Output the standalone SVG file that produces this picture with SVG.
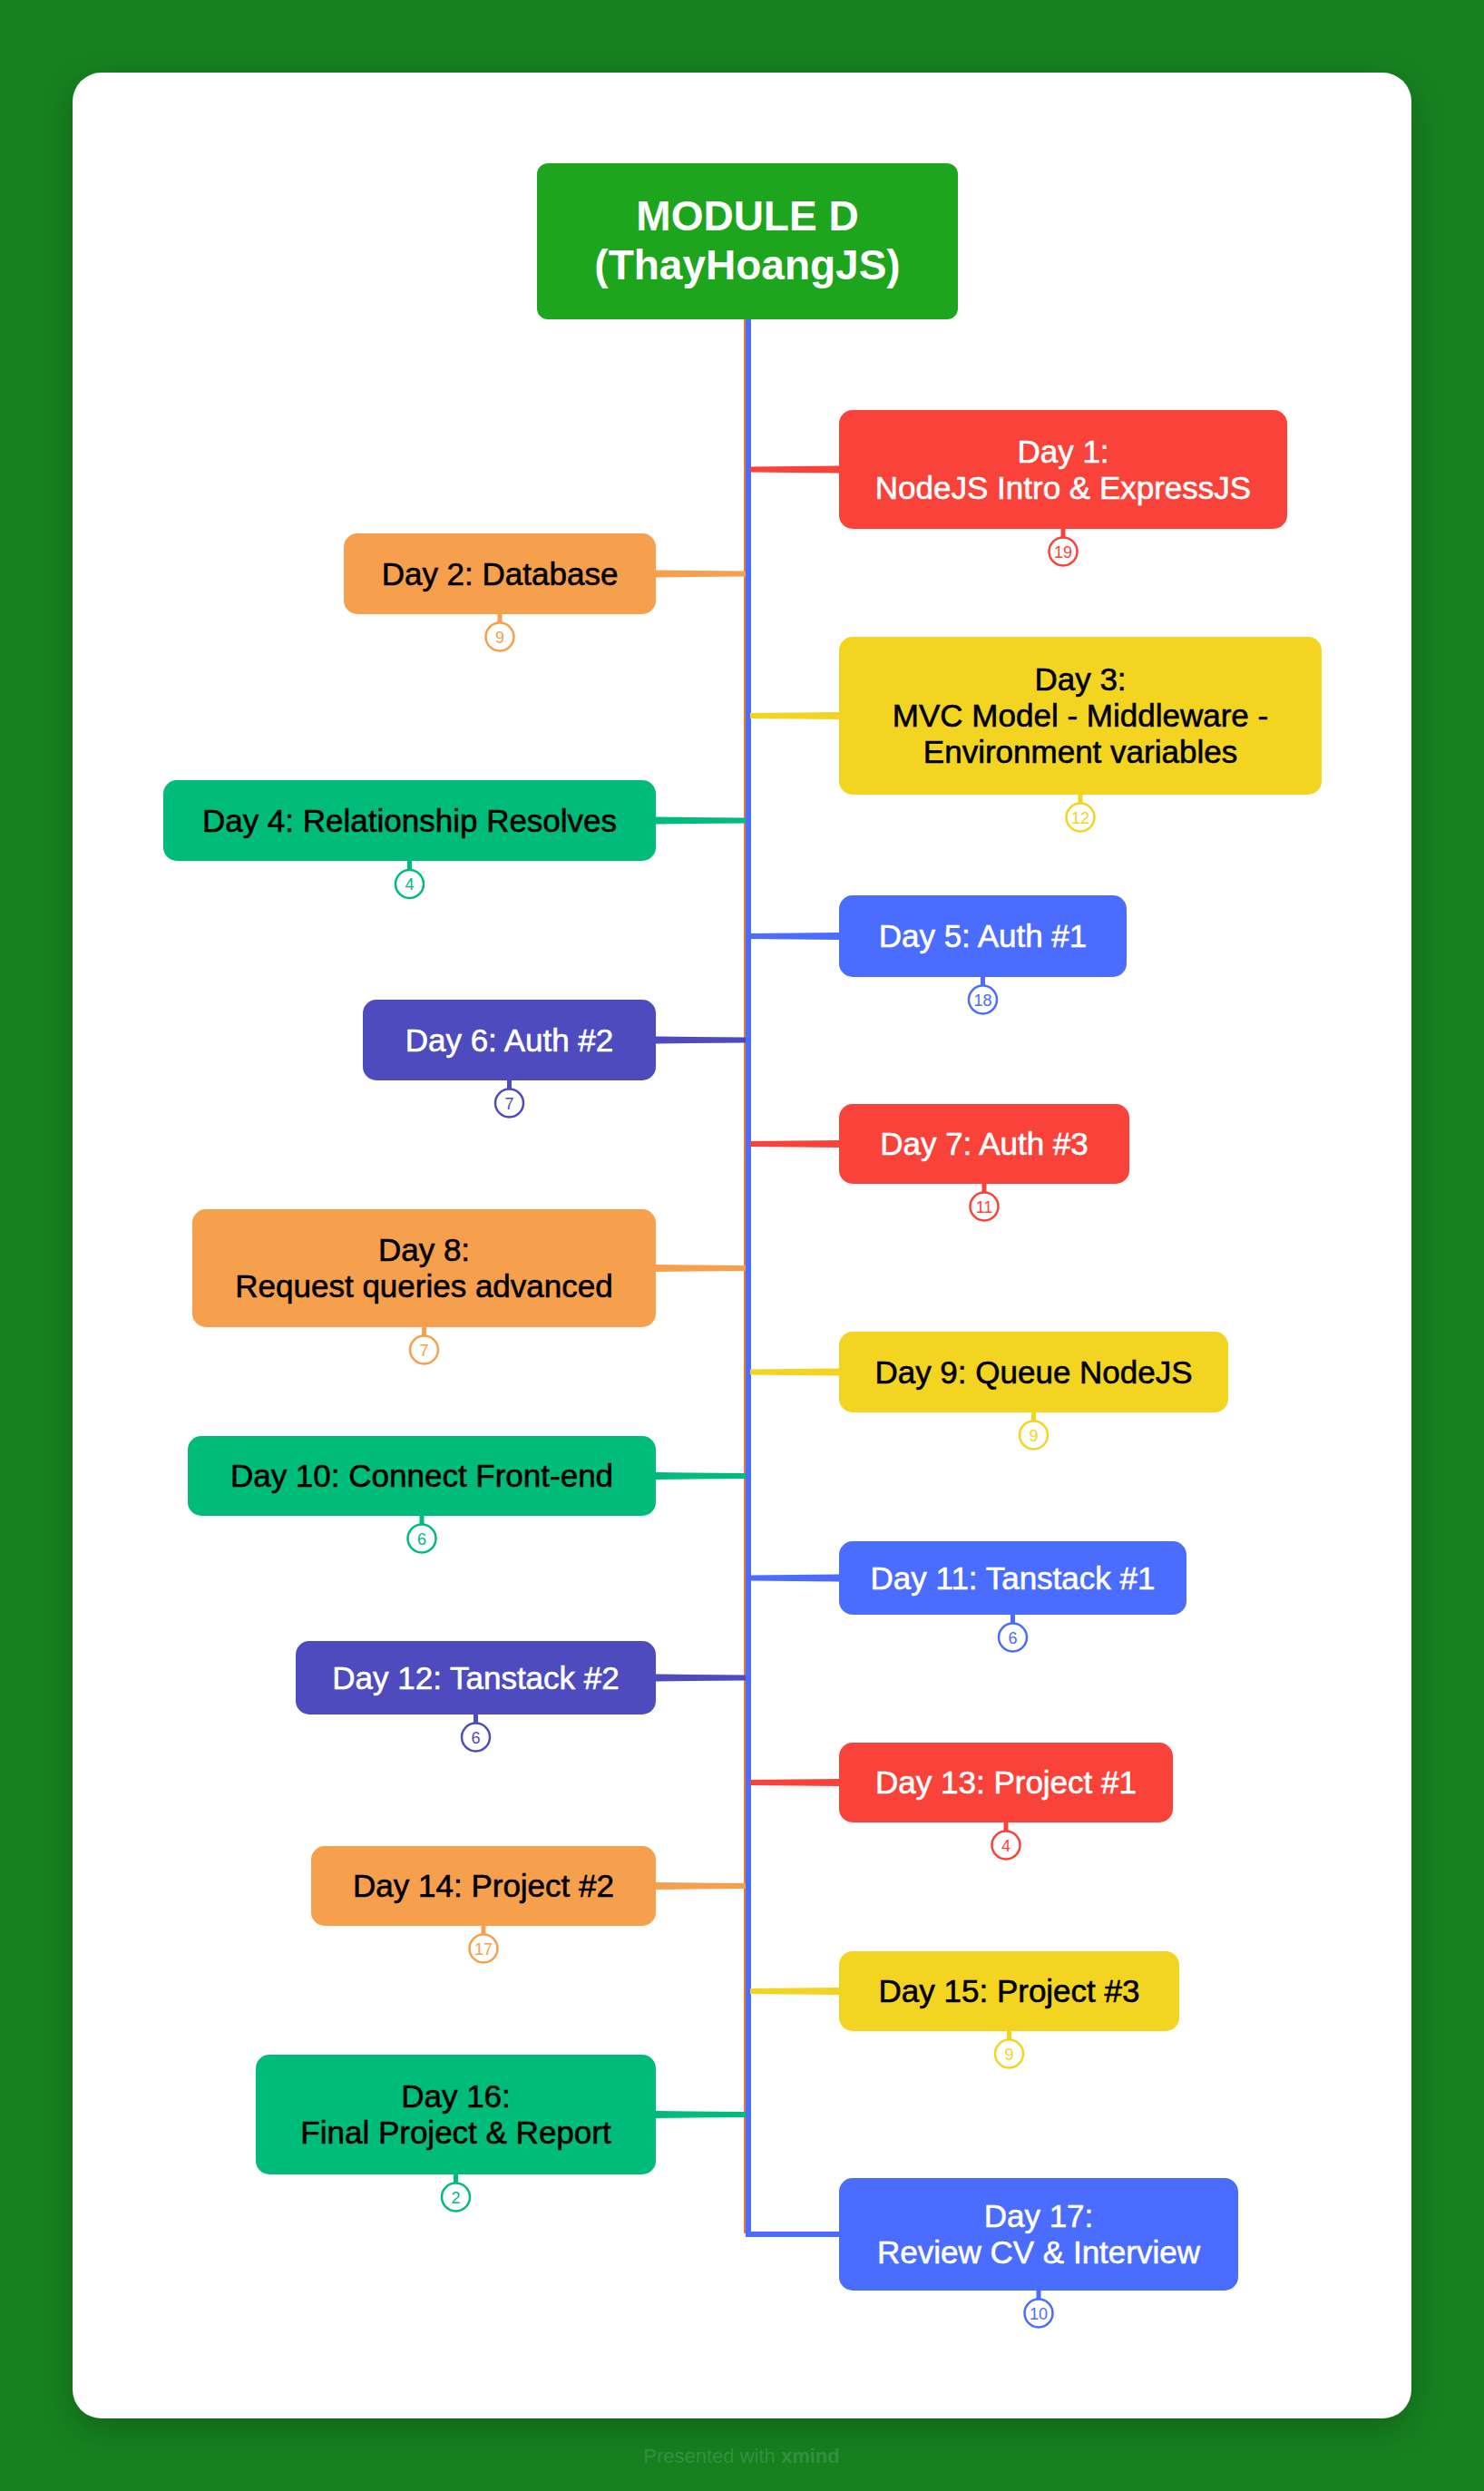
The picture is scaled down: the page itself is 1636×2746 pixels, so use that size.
<svg xmlns="http://www.w3.org/2000/svg" width="1636" height="2746" viewBox="0 0 1636 2746">
<defs>
<filter id="shadow" x="-10%" y="-10%" width="120%" height="120%">
<feDropShadow dx="0" dy="12" stdDeviation="18" flood-color="#000" flood-opacity="0.22"/>
</filter>
<style>
.lbl{font-family:"Liberation Sans",Arial,sans-serif;font-size:35px;text-anchor:middle;stroke-width:0.6px}
.w{fill:#fff;stroke:#fff}
.k{fill:#000;stroke:#000}
.num{font-family:"Liberation Sans",Arial,sans-serif;font-size:18px;text-anchor:middle}
.badge{fill:#fff;stroke-width:2.5}
.stub{stroke-width:5}
.red{fill:#F9423A}
.org{fill:#F6A04D}
.yel{fill:#F2D421}
.grn{fill:#00BC7B}
.blu{fill:#4A6CFF}
.ind{fill:#4E4BBF}
.sred{stroke:#F9423A}
.sorg{stroke:#F6A04D}
.syel{stroke:#F2D421}
.sgrn{stroke:#00BC7B}
.sblu{stroke:#4A6CFF}
.sind{stroke:#4E4BBF}
</style>
</defs>
<rect x="0" y="0" width="1636" height="2746" fill="#16811F"/>
<rect x="80" y="80" width="1476" height="2586" rx="32" fill="#fff" filter="url(#shadow)"/>

<g id="connectors">
<line x1="823.5" y1="352" x2="823.5" y2="2462" stroke="#E07A3A" stroke-width="7"/>
<line x1="825" y1="352" x2="825" y2="2463" stroke="#4A6CFF" stroke-width="6"/>
<path d="M822,2463 H926" stroke="#4A6CFF" stroke-width="6" fill="none"/>
<path class="red" d="M827,514.5 L925,513.5 L925,521.5 L827,520.5 Z"/>
<path class="org" d="M723,628.5 L822,629.5 L822,635.5 L723,636.5 Z"/>
<path class="yel" d="M827,786 L925,785 L925,793 L827,792 Z"/>
<path class="grn" d="M723,900.5 L822,901.5 L822,907.5 L723,908.5 Z"/>
<path class="blu" d="M827,1029 L925,1028 L925,1036 L827,1035 Z"/>
<path class="ind" d="M723,1142.5 L822,1143.5 L822,1149.5 L723,1150.5 Z"/>
<path class="red" d="M827,1258 L925,1257 L925,1265 L827,1264 Z"/>
<path class="org" d="M723,1394 L822,1395 L822,1401 L723,1402 Z"/>
<path class="yel" d="M827,1509.5 L925,1508.5 L925,1516.5 L827,1515.5 Z"/>
<path class="grn" d="M723,1623 L822,1624 L822,1630 L723,1631 Z"/>
<path class="blu" d="M827,1736.5 L925,1735.5 L925,1743.5 L827,1742.5 Z"/>
<path class="ind" d="M723,1845.5 L822,1846.5 L822,1852.5 L723,1853.5 Z"/>
<path class="red" d="M827,1962 L925,1961 L925,1969 L827,1968 Z"/>
<path class="org" d="M723,2075 L822,2076 L822,2082 L723,2083 Z"/>
<path class="yel" d="M827,2192 L925,2191 L925,2199 L827,2198 Z"/>
<path class="grn" d="M723,2327 L822,2328 L822,2334 L723,2335 Z"/>
</g>

<g id="root">
<rect x="592" y="180" width="464" height="172" rx="12" fill="#1DA51D"/>
<text x="824" y="254" font-family="'Liberation Sans',Arial,sans-serif" font-size="46" font-weight="bold" fill="#fff" text-anchor="middle">MODULE D</text>
<text x="824" y="308" font-family="'Liberation Sans',Arial,sans-serif" font-size="46" font-weight="bold" fill="#fff" text-anchor="middle">(ThayHoangJS)</text>
</g>

<g id="day1">
<rect class="red" x="925" y="452" width="494" height="131" rx="15"/>
<text class="lbl w" x="1172" y="509.5">Day 1:</text>
<text class="lbl w" x="1172" y="549.5">NodeJS Intro &amp; ExpressJS</text>
<line class="stub sred" x1="1172" y1="583" x2="1172" y2="593"/>
<circle class="badge sred" cx="1172" cy="608" r="15.5"/>
<text class="num red" x="1172" y="614.5">19</text>
</g>

<g id="day2">
<rect class="org" x="379" y="588" width="344" height="89" rx="15"/>
<text class="lbl k" x="551" y="644.5">Day 2: Database</text>
<line class="stub sorg" x1="551" y1="677" x2="551" y2="687"/>
<circle class="badge sorg" cx="551" cy="702" r="15.5"/>
<text class="num org" x="551" y="708.5">9</text>
</g>

<g id="day3">
<rect class="yel" x="925" y="702" width="532" height="174" rx="15"/>
<text class="lbl k" x="1191" y="761">Day 3:</text>
<text class="lbl k" x="1191" y="801">MVC Model - Middleware -</text>
<text class="lbl k" x="1191" y="841">Environment variables</text>
<line class="stub syel" x1="1191" y1="876" x2="1191" y2="886"/>
<circle class="badge syel" cx="1191" cy="901" r="15.5"/>
<text class="num yel" x="1191" y="907.5">12</text>
</g>

<g id="day4">
<rect class="grn" x="180" y="860" width="543" height="89" rx="15"/>
<text class="lbl k" x="451.5" y="916.5">Day 4: Relationship Resolves</text>
<line class="stub sgrn" x1="451.5" y1="949" x2="451.5" y2="959"/>
<circle class="badge sgrn" cx="451.5" cy="974.5" r="15.5"/>
<text class="num grn" x="451.5" y="981">4</text>
</g>

<g id="day5">
<rect class="blu" x="925" y="987" width="317" height="90" rx="15"/>
<text class="lbl w" x="1083.5" y="1044">Day 5: Auth #1</text>
<line class="stub sblu" x1="1083.5" y1="1077" x2="1083.5" y2="1087"/>
<circle class="badge sblu" cx="1083.5" cy="1102" r="15.5"/>
<text class="num blu" x="1083.5" y="1108.5">18</text>
</g>

<g id="day6">
<rect class="ind" x="400" y="1102" width="323" height="89" rx="15"/>
<text class="lbl w" x="561.5" y="1158.5">Day 6: Auth #2</text>
<line class="stub sind" x1="561.5" y1="1191" x2="561.5" y2="1201"/>
<circle class="badge sind" cx="561.5" cy="1216" r="15.5"/>
<text class="num ind" x="561.5" y="1222.5">7</text>
</g>

<g id="day7">
<rect class="red" x="925" y="1217" width="320" height="88" rx="15"/>
<text class="lbl w" x="1085" y="1273">Day 7: Auth #3</text>
<line class="stub sred" x1="1085" y1="1305" x2="1085" y2="1315"/>
<circle class="badge sred" cx="1085" cy="1330" r="15.5"/>
<text class="num red" x="1085" y="1336.5">11</text>
</g>

<g id="day8">
<rect class="org" x="212" y="1333" width="511" height="130" rx="15"/>
<text class="lbl k" x="467.5" y="1390">Day 8:</text>
<text class="lbl k" x="467.5" y="1430">Request queries advanced</text>
<line class="stub sorg" x1="467.5" y1="1463" x2="467.5" y2="1473"/>
<circle class="badge sorg" cx="467.5" cy="1488" r="15.5"/>
<text class="num org" x="467.5" y="1494.5">7</text>
</g>

<g id="day9">
<rect class="yel" x="925" y="1468" width="429" height="89" rx="15"/>
<text class="lbl k" x="1139.5" y="1524.5">Day 9: Queue NodeJS</text>
<line class="stub syel" x1="1139.5" y1="1557" x2="1139.5" y2="1567"/>
<circle class="badge syel" cx="1139.5" cy="1582" r="15.5"/>
<text class="num yel" x="1139.5" y="1588.5">9</text>
</g>

<g id="day10">
<rect class="grn" x="207" y="1583" width="516" height="88" rx="15"/>
<text class="lbl k" x="465" y="1639">Day 10: Connect Front-end</text>
<line class="stub sgrn" x1="465" y1="1671" x2="465" y2="1681"/>
<circle class="badge sgrn" cx="465" cy="1696" r="15.5"/>
<text class="num grn" x="465" y="1702.5">6</text>
</g>

<g id="day11">
<rect class="blu" x="925" y="1699" width="383" height="81" rx="15"/>
<text class="lbl w" x="1116.5" y="1751.5">Day 11: Tanstack #1</text>
<line class="stub sblu" x1="1116.5" y1="1780" x2="1116.5" y2="1790"/>
<circle class="badge sblu" cx="1116.5" cy="1805" r="15.5"/>
<text class="num blu" x="1116.5" y="1811.5">6</text>
</g>

<g id="day12">
<rect class="ind" x="326" y="1809" width="397" height="81" rx="15"/>
<text class="lbl w" x="524.5" y="1861.5">Day 12: Tanstack #2</text>
<line class="stub sind" x1="524.5" y1="1890" x2="524.5" y2="1900"/>
<circle class="badge sind" cx="524.5" cy="1915" r="15.5"/>
<text class="num ind" x="524.5" y="1921.5">6</text>
</g>

<g id="day13">
<rect class="red" x="925" y="1921" width="368" height="88" rx="15"/>
<text class="lbl w" x="1109" y="1977">Day 13: Project #1</text>
<line class="stub sred" x1="1109" y1="2009" x2="1109" y2="2019"/>
<circle class="badge sred" cx="1109" cy="2034" r="15.5"/>
<text class="num red" x="1109" y="2040.5">4</text>
</g>

<g id="day14">
<rect class="org" x="343" y="2035" width="380" height="88" rx="15"/>
<text class="lbl k" x="533" y="2091">Day 14: Project #2</text>
<line class="stub sorg" x1="533" y1="2123" x2="533" y2="2133"/>
<circle class="badge sorg" cx="533" cy="2148" r="15.5"/>
<text class="num org" x="533" y="2154.5">17</text>
</g>

<g id="day15">
<rect class="yel" x="925" y="2151" width="375" height="88" rx="15"/>
<text class="lbl k" x="1112.5" y="2207">Day 15: Project #3</text>
<line class="stub syel" x1="1112.5" y1="2239" x2="1112.5" y2="2249"/>
<circle class="badge syel" cx="1112.5" cy="2264" r="15.5"/>
<text class="num yel" x="1112.5" y="2270.5">9</text>
</g>

<g id="day16">
<rect class="grn" x="282" y="2265" width="441" height="132" rx="15"/>
<text class="lbl k" x="502.5" y="2323">Day 16:</text>
<text class="lbl k" x="502.5" y="2363">Final Project &amp; Report</text>
<line class="stub sgrn" x1="502.5" y1="2397" x2="502.5" y2="2407"/>
<circle class="badge sgrn" cx="502.5" cy="2422" r="15.5"/>
<text class="num grn" x="502.5" y="2428.5">2</text>
</g>

<g id="day17">
<rect class="blu" x="925" y="2401" width="440" height="124" rx="15"/>
<text class="lbl w" x="1145" y="2455">Day 17:</text>
<text class="lbl w" x="1145" y="2495">Review CV &amp; Interview</text>
<line class="stub sblu" x1="1145" y1="2525" x2="1145" y2="2535"/>
<circle class="badge sblu" cx="1145" cy="2550" r="15.5"/>
<text class="num blu" x="1145" y="2556.5">10</text>
</g>

<text x="817.5" y="2715" font-family="'Liberation Sans',Arial,sans-serif" font-size="22" fill="#fff" fill-opacity="0.15" text-anchor="middle">Presented with <tspan font-weight="bold">xmind</tspan></text>
</svg>
